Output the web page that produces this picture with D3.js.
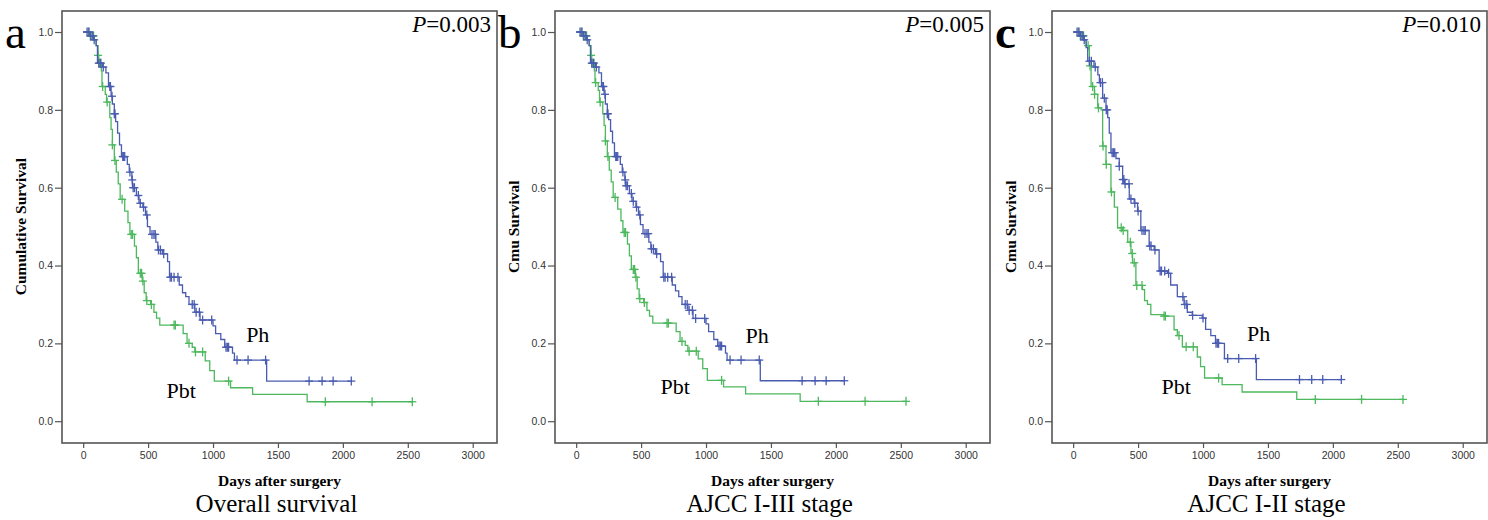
<!DOCTYPE html>
<html>
<head>
<meta charset="utf-8">
<script src="https://cdn.jsdelivr.net/npm/d3@7"></script>
<style>
    body { margin: 0; background: #fff; }
</style>
</head>
<body>
<div id="km"></div>
<script>
// --------------------------------------------------
// Kaplan-Meier curves, three panels, Ph vs Pbt

var dayTicks = [0, 500, 1000, 1500, 2000, 2500, 3000];
var survTicks = [0.0, 0.2, 0.4, 0.6, 0.8, 1.0];
var panelLetters = ["a", "b", "c"];
var panelTitles = ["Overall survival", "AJCC I-III stage", "AJCC I-II stage"];
var pValues = ["0.003", "0.005", "0.010"];
var yLabels = ["Cumulative Survival", "Cmu Survival", "Cmu Survival"];
var groupNames = ["Ph", "Pbt"];

// [day, survival] after each drop, last entry = end of follow-up
var phStepsA = [[0, 1.0], [55, 0.99], [80, 0.98], [100, 0.965], [110, 0.92], [150, 0.91], [175, 0.895],
    [195, 0.86], [215, 0.835], [225, 0.815], [240, 0.79], [250, 0.77], [265, 0.74], [280, 0.71],
    [295, 0.68], [340, 0.66], [355, 0.64], [375, 0.62], [380, 0.60], [410, 0.58], [430, 0.56],
    [460, 0.55], [480, 0.53], [495, 0.50], [515, 0.48], [560, 0.46], [575, 0.44], [610, 0.43],
    [650, 0.41], [665, 0.37], [740, 0.35], [765, 0.33], [790, 0.32], [815, 0.30], [860, 0.28],
    [900, 0.26], [1000, 0.245], [1020, 0.225], [1060, 0.21], [1090, 0.19], [1150, 0.175],
    [1165, 0.157], [1413, 0.103], [2070, 0.103]];
var pbtStepsA = [[0, 1.0], [50, 0.99], [85, 0.98], [100, 0.965], [115, 0.94], [120, 0.92], [140, 0.90],
    [145, 0.86], [170, 0.84], [180, 0.82], [205, 0.78], [215, 0.75], [225, 0.71], [240, 0.67],
    [255, 0.64], [270, 0.61], [285, 0.57], [320, 0.54], [345, 0.51], [360, 0.48], [395, 0.45],
    [410, 0.42], [425, 0.38], [455, 0.36], [470, 0.33], [485, 0.31], [520, 0.30], [545, 0.28],
    [565, 0.265], [590, 0.247], [770, 0.225], [800, 0.20], [840, 0.19], [860, 0.178], [940, 0.155],
    [975, 0.13], [1010, 0.103], [1135, 0.086], [1305, 0.069], [1725, 0.05], [2540, 0.05]];

var phStepsB = [[0, 1.0], [55, 0.99], [80, 0.98], [100, 0.965], [110, 0.92], [150, 0.91], [175, 0.895],
    [195, 0.86], [215, 0.84], [225, 0.815], [240, 0.79], [250, 0.775], [265, 0.745], [280, 0.715],
    [295, 0.68], [340, 0.66], [355, 0.64], [375, 0.62], [380, 0.605], [410, 0.585], [430, 0.565],
    [460, 0.55], [480, 0.53], [495, 0.505], [515, 0.482], [560, 0.46], [575, 0.443], [610, 0.43],
    [650, 0.41], [670, 0.37], [740, 0.35], [765, 0.335], [790, 0.32], [815, 0.30], [860, 0.285],
    [900, 0.264], [1000, 0.25], [1020, 0.23], [1060, 0.21], [1090, 0.193], [1150, 0.175],
    [1162, 0.157], [1418, 0.104], [2070, 0.104]];
var pbtStepsB = [[0, 1.0], [50, 0.99], [85, 0.98], [100, 0.965], [115, 0.94], [120, 0.92], [140, 0.90],
    [145, 0.87], [170, 0.85], [180, 0.82], [205, 0.79], [215, 0.76], [225, 0.72], [240, 0.68],
    [255, 0.645], [270, 0.615], [285, 0.575], [320, 0.545], [345, 0.515], [360, 0.485], [395, 0.455],
    [410, 0.425], [425, 0.39], [455, 0.37], [470, 0.34], [485, 0.315], [520, 0.305], [545, 0.285],
    [565, 0.27], [590, 0.252], [770, 0.23], [800, 0.205], [840, 0.195], [860, 0.18], [940, 0.16],
    [975, 0.135], [1010, 0.105], [1135, 0.088], [1305, 0.07], [1725, 0.051], [2545, 0.051]];

var phStepsC = [[0, 1.0], [55, 0.99], [80, 0.98], [100, 0.96], [112, 0.925], [160, 0.91], [190, 0.89],
    [202, 0.87], [227, 0.83], [253, 0.80], [266, 0.78], [278, 0.74], [291, 0.69], [330, 0.675],
    [355, 0.655], [381, 0.621], [394, 0.61], [432, 0.571], [470, 0.56], [496, 0.54], [521, 0.49],
    [585, 0.45], [624, 0.44], [662, 0.386], [726, 0.38], [751, 0.35], [802, 0.32], [854, 0.30],
    [879, 0.28], [917, 0.272], [994, 0.265], [1020, 0.236], [1060, 0.22], [1096, 0.20],
    [1165, 0.161], [1411, 0.107], [2070, 0.107]];
var pbtStepsC = [[0, 1.0], [50, 0.99], [85, 0.98], [100, 0.965], [125, 0.913], [138, 0.86], [164, 0.84],
    [189, 0.805], [215, 0.80], [227, 0.707], [253, 0.66], [291, 0.589], [317, 0.55], [342, 0.497],
    [381, 0.49], [420, 0.46], [445, 0.431], [457, 0.407], [483, 0.349], [534, 0.338], [550, 0.31],
    [572, 0.30], [598, 0.274], [700, 0.27], [777, 0.235], [802, 0.22], [841, 0.191], [956, 0.165],
    [981, 0.14], [1012, 0.111], [1147, 0.094], [1301, 0.075], [1722, 0.056], [2545, 0.056]];

// censored cases (days)
var phCensorA = [30, 45, 60, 75, 85, 120, 135, 155, 205, 210, 222, 240, 245, 305, 310, 320, 360,
    378, 385, 395, 425, 440, 465, 490, 530, 545, 555, 580, 595, 620, 670, 680, 700, 730, 840, 855,
    870, 895, 920, 990, 1100, 1110, 1120, 1185, 1270, 1405, 1740, 1840, 1925, 2065];
var pbtCensorA = [40, 55, 70, 80, 115, 125, 135, 150, 185, 225, 245, 300, 370, 380, 440, 450, 460,
    490, 525, 700, 710, 815, 865, 920, 1120, 1865, 2225, 2535];
var phCensorB = [30, 45, 60, 75, 85, 120, 135, 155, 205, 210, 222, 240, 245, 305, 310, 320, 360,
    378, 385, 395, 425, 440, 465, 490, 530, 545, 555, 580, 595, 620, 675, 685, 705, 735, 840, 855,
    870, 895, 920, 990, 1100, 1110, 1120, 1185, 1270, 1410, 1740, 1840, 1925, 2065];
var pbtCensorB = [40, 55, 70, 80, 115, 125, 135, 150, 185, 225, 245, 300, 370, 380, 440, 450, 460,
    490, 525, 700, 710, 815, 870, 925, 1120, 1865, 2225, 2540];
var phCensorC = [30, 45, 60, 75, 85, 125, 140, 170, 210, 225, 240, 255, 262, 300, 310, 320, 355,
    382, 390, 400, 430, 445, 475, 500, 530, 545, 555, 590, 600, 630, 670, 680, 705, 735, 845, 860,
    875, 920, 1000, 1100, 1110, 1120, 1190, 1275, 1405, 1743, 1837, 1922, 2065];
var pbtCensorC = [40, 55, 70, 80, 115, 130, 150, 165, 195, 230, 255, 295, 370, 385, 440, 455, 470,
    490, 530, 700, 710, 815, 870, 925, 1120, 1865, 2221, 2540];

// label anchors in data units [day, survival]
var phLabelAt = [[1255, 0.203], [1305, 0.20], [1339, 0.206]];
var pbtLabelAt = [[642, 0.059], [649, 0.071], [680, 0.069]];

var panels = [
    { ph: phStepsA, pbt: pbtStepsA, phC: phCensorA, pbtC: pbtCensorA },
    { ph: phStepsB, pbt: pbtStepsB, phC: phCensorB, pbtC: pbtCensorB },
    { ph: phStepsC, pbt: pbtStepsC, phC: phCensorC, pbtC: pbtCensorC }
];

var phColor = "#4a5cb0";
var pbtColor = "#4db85e";

var lefts = [62, 555, 1052];
var marginTop = 11;
var width = 435;
var height = 432;

var svg = d3.select("#km")
    .append("svg")
    .attr("width", 1488)
    .attr("height", 520);

function survAt(steps, t) {
    var s = steps[0][1];
    steps.forEach(function(p) {
        if (p[0] <= t) s = p[1];
    });
    return s;
}

panels.forEach(function(p, i) {
    var g = svg.append("g")
        .attr("transform", "translate(" + lefts[i] + ", " + marginTop + ")");

    var x = d3.scaleLinear()
        .domain([-163, 3187])
        .range([0, width]);

    var y = d3.scaleLinear()
        .domain([-0.056, 1.054])
        .range([height, 0]);

    // frame
    g.append("rect")
        .attr("x", 0)
        .attr("y", 0)
        .attr("width", width)
        .attr("height", height)
        .attr("fill", "none")
        .attr("stroke", "#555")
        .attr("stroke-width", 1.6);

    // y axis
    var yAxisCall = d3.axisLeft(y)
        .tickValues(survTicks)
        .tickSize(7)
        .tickPadding(2)
        .tickFormat(d3.format(".1f"));
    var ya = g.append("g")
        .attr("class", "y-axis")
        .call(yAxisCall);
    ya.select(".domain").remove();

    // x axis
    var xAxisCall = d3.axisBottom(x)
        .tickValues(dayTicks)
        .tickSize(5)
        .tickPadding(4)
        .tickFormat(d3.format("d"));
    var xa = g.append("g")
        .attr("class", "x-axis")
        .attr("transform", "translate(0, " + height + ")")
        .call(xAxisCall);
    xa.select(".domain").remove();

    g.selectAll(".tick line")
        .attr("stroke", "#555")
        .attr("stroke-width", 1.2);
    g.selectAll(".tick text")
        .attr("fill", "#333")
        .attr("font-family", "Liberation Sans, Arial, sans-serif")
        .attr("font-size", "10.5px");

    var line = d3.line()
        .curve(d3.curveStepAfter)
        .x(function(d) { return x(d[0]); })
        .y(function(d) { return y(d[1]); });

    var series = [
        { steps: p.pbt, cens: p.pbtC, color: pbtColor },
        { steps: p.ph, cens: p.phC, color: phColor }
    ];

    series.forEach(function(s) {
        g.append("path")
            .datum(s.steps)
            .attr("d", line)
            .attr("fill", "none")
            .attr("stroke", s.color)
            .attr("stroke-width", 1.3);

        // censor marks
        var cg = g.append("g");
        cg.selectAll("line.v")
            .data(s.cens)
            .enter()
            .append("line")
            .attr("class", "v")
            .attr("x1", function(d) { return x(d); })
            .attr("x2", function(d) { return x(d); })
            .attr("y1", function(d) { return y(survAt(s.steps, d)) - 4.5; })
            .attr("y2", function(d) { return y(survAt(s.steps, d)) + 4.5; })
            .attr("stroke", s.color)
            .attr("stroke-width", 1.3);
        cg.selectAll("line.h")
            .data(s.cens)
            .enter()
            .append("line")
            .attr("class", "h")
            .attr("x1", function(d) { return x(d) - 4; })
            .attr("x2", function(d) { return x(d) + 4; })
            .attr("y1", function(d) { return y(survAt(s.steps, d)); })
            .attr("y2", function(d) { return y(survAt(s.steps, d)); })
            .attr("stroke", s.color)
            .attr("stroke-width", 1.3);
    });

    // group labels
    g.append("text")
        .attr("x", x(phLabelAt[i][0]))
        .attr("y", y(phLabelAt[i][1]))
        .attr("font-family", "Liberation Serif, Times New Roman, serif")
        .attr("font-size", "22px")
        .text(groupNames[0]);
    g.append("text")
        .attr("x", x(pbtLabelAt[i][0]))
        .attr("y", y(pbtLabelAt[i][1]))
        .attr("font-family", "Liberation Serif, Times New Roman, serif")
        .attr("font-size", "22px")
        .text(groupNames[1]);

    // P value
    var pt = g.append("text")
        .attr("x", width - 6)
        .attr("y", 21)
        .attr("text-anchor", "end")
        .attr("font-family", "Liberation Serif, Times New Roman, serif")
        .attr("font-size", "23px");
    pt.append("tspan")
        .attr("font-style", "italic")
        .text("P");
    pt.append("tspan")
        .text("=" + pValues[i]);

    // panel letter
    g.append("text")
        .attr("x", -57)
        .attr("y", 37)
        .attr("font-family", "Liberation Serif, Times New Roman, serif")
        .attr("font-size", "47px")
        .attr("font-weight", i == 2 ? "bold" : "normal")
        .text(panelLetters[i]);

    // y label
    g.append("text")
        .attr("x", -(y(0.5)))
        .attr("y", -36)
        .attr("font-size", "15.5px")
        .attr("font-weight", "bold")
        .attr("font-family", "Liberation Serif, Times New Roman, serif")
        .attr("text-anchor", "middle")
        .attr("transform", "rotate(-90)")
        .text(yLabels[i]);

    // x label
    g.append("text")
        .attr("x", width / 2)
        .attr("y", height + 43)
        .attr("font-size", "15.5px")
        .attr("font-weight", "bold")
        .attr("font-family", "Liberation Serif, Times New Roman, serif")
        .attr("text-anchor", "middle")
        .text("Days after surgery");

    // panel title
    g.append("text")
        .attr("x", width / 2 - 3)
        .attr("y", height + 69)
        .attr("font-size", "25px")
        .attr("font-family", "Liberation Serif, Times New Roman, serif")
        .attr("text-anchor", "middle")
        .text(panelTitles[i]);
});
</script>
</body>
</html>
